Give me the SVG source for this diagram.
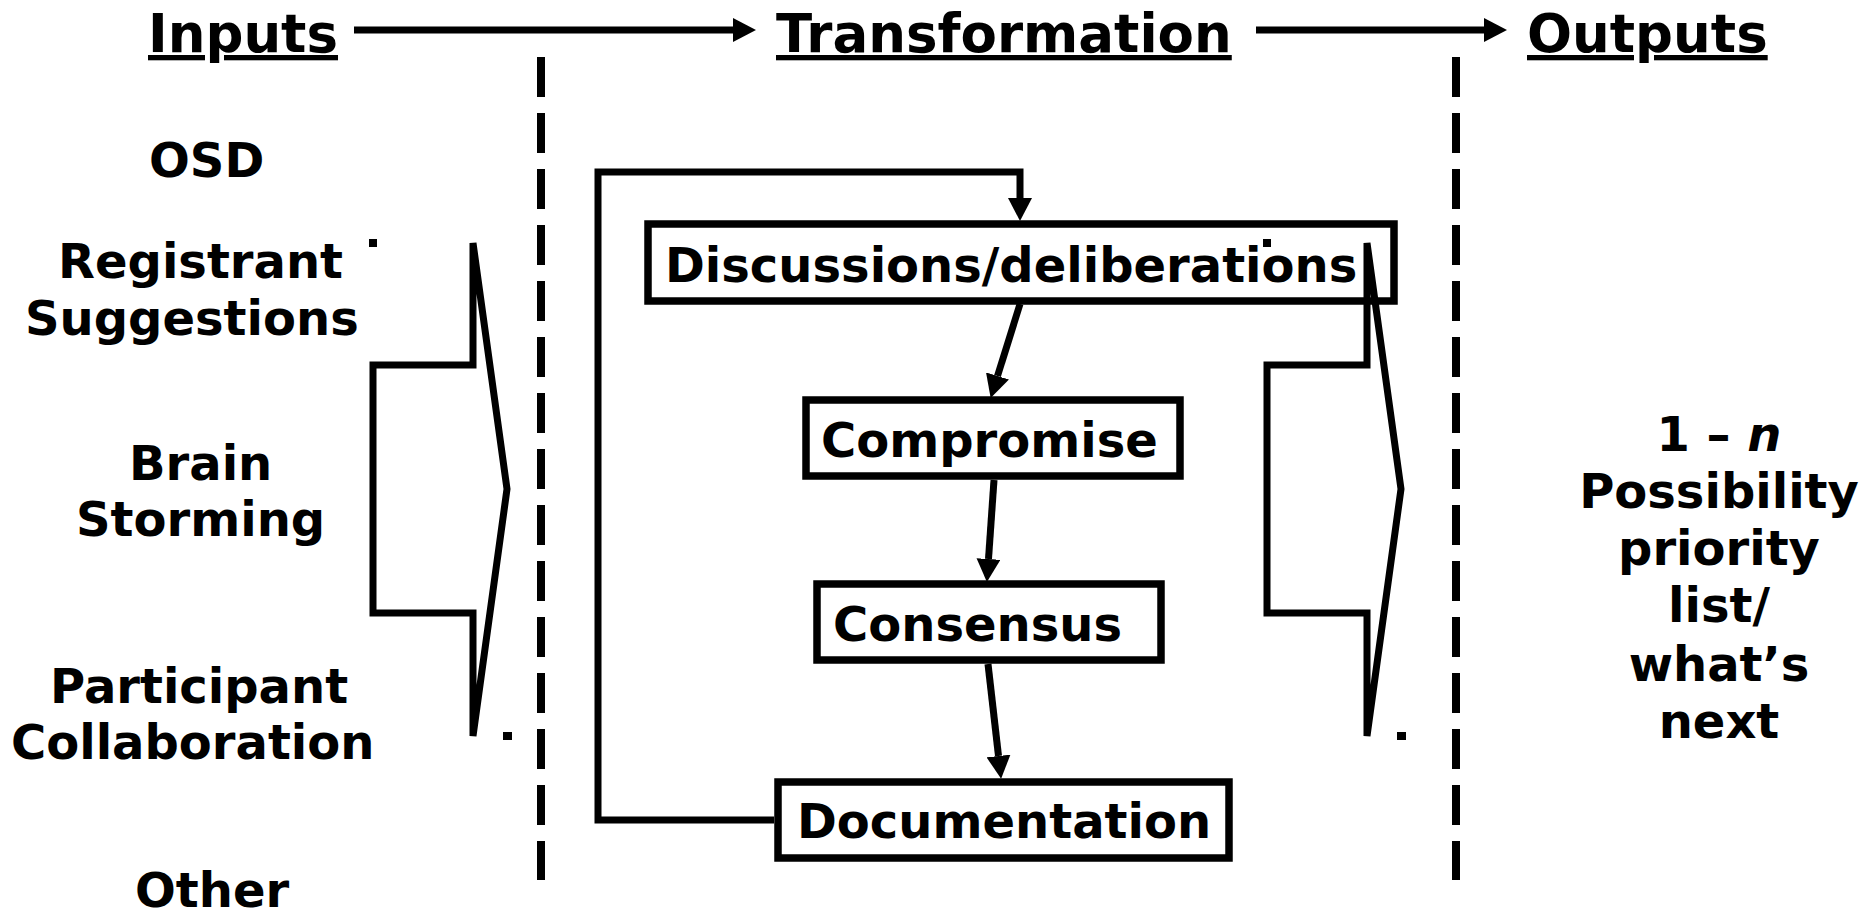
<svg xmlns="http://www.w3.org/2000/svg" width="1876" height="913" viewBox="0 0 1876 913">
<defs>
<style>
text{font-family:"DejaVu Sans","Liberation Sans",sans-serif;font-weight:bold;fill:#000}
.title{font-size:53px;text-decoration:underline}
.lbl{font-size:48px}
.box{fill:#fff;stroke:#000;stroke-width:7.5}
.con{fill:none;stroke:#000;stroke-width:7}
.dash{fill:none;stroke:#000;stroke-width:8;stroke-dasharray:40 16}
.brace{fill:none;stroke:#000;stroke-width:7}
</style>
<marker id="ah" markerUnits="userSpaceOnUse" markerWidth="24" markerHeight="24" refX="0" refY="12" orient="auto" viewBox="0 0 24 24">
<path d="M0,0 L23,12 L0,24 Z" fill="#000"/>
</marker>
<g id="braceShape">
<path class="brace" d="M473,243 L507,489 L473,736 L473,613 L373,613 L373,365 L473,365 Z"/>
<rect x="369" y="239" width="8" height="8" fill="#000"/>
<rect x="503" y="732" width="9" height="8" fill="#000"/>
</g>
</defs>
<rect width="1876" height="913" fill="#fff"/>

<g id="titles">
<text class="title" x="148" y="52">Inputs</text>
<text class="title" x="776" y="52">Transformation</text>
<text class="title" x="1527" y="52">Outputs</text>
</g>

<g id="dividers">
<line class="dash" x1="541" y1="57" x2="541" y2="880"/>
<line class="dash" x1="1456" y1="57" x2="1456" y2="880"/>
</g>

<g id="inputs">
<text class="lbl" x="149" y="177">OSD</text>
<text class="lbl" x="58" y="278">Registrant</text>
<text class="lbl" x="25" y="335">Suggestions</text>
<text class="lbl" x="129" y="480">Brain</text>
<text class="lbl" x="76" y="536">Storming</text>
<text class="lbl" x="50" y="703">Participant</text>
<text class="lbl" x="11" y="759">Collaboration</text>
<text class="lbl" x="135" y="907">Other</text>
</g>

<g id="outputs">
<text class="lbl" text-anchor="middle" x="1719" y="451">1 – <tspan font-style="italic">n</tspan></text>
<text class="lbl" text-anchor="middle" x="1719" y="508">Possibility</text>
<text class="lbl" text-anchor="middle" x="1719" y="565">priority</text>
<text class="lbl" text-anchor="middle" x="1719" y="622">list/</text>
<text class="lbl" text-anchor="middle" x="1719" y="681">what’s</text>
<text class="lbl" text-anchor="middle" x="1719" y="738">next</text>
</g>

<g id="connectors">
<line class="con" x1="354" y1="30" x2="733" y2="30" marker-end="url(#ah)"/>
<line class="con" x1="1256" y1="30" x2="1484" y2="30" marker-end="url(#ah)"/>
<path class="con" d="M774,820 L598,820 L598,172 L1020,172 L1020,198" marker-end="url(#ah)"/>
<line class="con" x1="1020" y1="304" x2="997.5" y2="376" marker-end="url(#ah)"/>
<line class="con" x1="994" y1="480" x2="988.5" y2="559" marker-end="url(#ah)"/>
<line class="con" x1="988" y1="664" x2="998.5" y2="756" marker-end="url(#ah)"/>
</g>

<g id="node-discussions">
<rect class="box" x="648" y="224" width="746" height="77"/>
<text class="lbl" x="665" y="282">Discussions/deliberations</text>
</g>
<g id="node-compromise">
<rect class="box" x="806" y="400" width="374" height="76"/>
<text class="lbl" x="821" y="457">Compromise</text>
</g>
<g id="node-consensus">
<rect class="box" x="817" y="584" width="344" height="76"/>
<text class="lbl" x="833" y="641">Consensus </text>
</g>
<g id="node-documentation">
<rect class="box" x="778" y="782" width="451" height="76"/>
<text class="lbl" x="797" y="838">Documentation</text>
</g>

<g id="brace-left"><use href="#braceShape"/></g>
<g id="brace-right"><use href="#braceShape" transform="translate(894,0)"/></g>
</svg>
